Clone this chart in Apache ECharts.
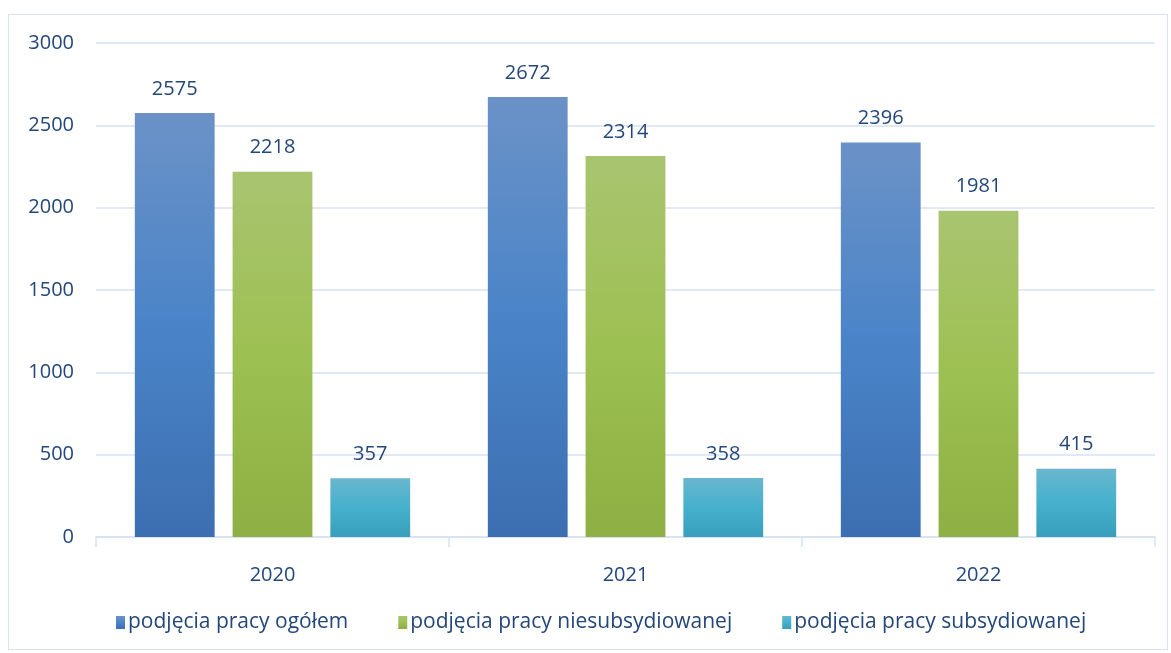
<!DOCTYPE html>
<html>
<head>
<meta charset="utf-8">
<script src="https://cdn.jsdelivr.net/npm/echarts@6/dist/echarts.min.js"></script>
<style>
  html, body { margin: 0; padding: 0; background: #fff; }
  #main { width: 1171px; height: 653px; }
  #frame { position: absolute; left: 8px; top: 14px; width: 1160px; height: 636px; border: 1.5px solid #d6e2f2; box-sizing: border-box; pointer-events: none; }
</style>
</head>
<body>
<div id="main"></div>
<div id="frame"></div>
<script>
var years = ['2020', '2021', '2022'];
var seriesNames = ['podjęcia pracy ogółem', 'podjęcia pracy niesubsydiowanej', 'podjęcia pracy subsydiowanej'];
var ogolem = [2575, 2672, 2396];
var niesubsydiowane = [2218, 2314, 1981];
var subsydiowane = [357, 358, 415];

// kolory gradientu: góra, środek, dół
var gradients = [
    ['#6b92c7', '#4a84c8', '#3c6fb1'],
    ['#a9c470', '#9dc052', '#8daf43'],
    ['#6ab6ce', '#45b1cd', '#389ebb']
];

var labelColor = '#23477a';
var fontFamily = 'Open Sans, Noto Sans, sans-serif';

function grad(c) {
    return new echarts.graphic.LinearGradient(0, 0, 0, 1, [
        { offset: 0, color: c[0] },
        { offset: 0.5, color: c[1] },
        { offset: 1, color: c[2] }
    ]);
}

var myChart = echarts.init(document.getElementById('main'));

var values = [ogolem, niesubsydiowane, subsydiowane];
var myseries = [];
for (var i = 0; i < 3; i++) {
    myseries.push({
        name: seriesNames[i],
        type: 'bar',
        barGap: '22.5%',
        barCategoryGap: '22%',
        itemStyle: { color: grad(gradients[i]) },
        label: {
            show: true,
            position: 'top',
            distance: 14,
            color: labelColor,
            fontSize: 20,
            fontFamily: fontFamily
        },
        data: values[i]
    });
}

var option = {
    animation: false,
    textStyle: { fontFamily: fontFamily },
    grid: { left: 96, right: 16, top: 43, bottom: 116 },
    legend: {
        bottom: 15,
        left: 111,
        itemWidth: 9,
        itemHeight: 13,
        itemGap: 50,
        icon: 'rect',
        textStyle: { color: labelColor, fontSize: 21, fontFamily: fontFamily, padding: [0, 0, 0, -2] },
        data: seriesNames.map(function (n, i) {
            return { name: n, itemStyle: { color: grad(gradients[i]) } };
        })
    },
    xAxis: {
        type: 'category',
        data: years,
        axisLine: { lineStyle: { color: '#d6e2f2', width: 1.5 } },
        axisTick: { show: true, length: 10, lineStyle: { color: '#d6e2f2', width: 1.5 } },
        axisLabel: { color: labelColor, fontSize: 20, margin: 28 }
    },
    yAxis: {
        type: 'value',
        min: 0,
        max: 3000,
        interval: 500,
        axisLine: { show: false },
        axisTick: { show: false },
        splitLine: { lineStyle: { color: '#d6e2f2', width: 1.5 } },
        axisLabel: {
            color: labelColor,
            fontSize: 20,
            margin: 22,
            formatter: function (v) { return String(v); }
        }
    },
    series: myseries
};

myChart.setOption(option);
</script>
</body>
</html>
